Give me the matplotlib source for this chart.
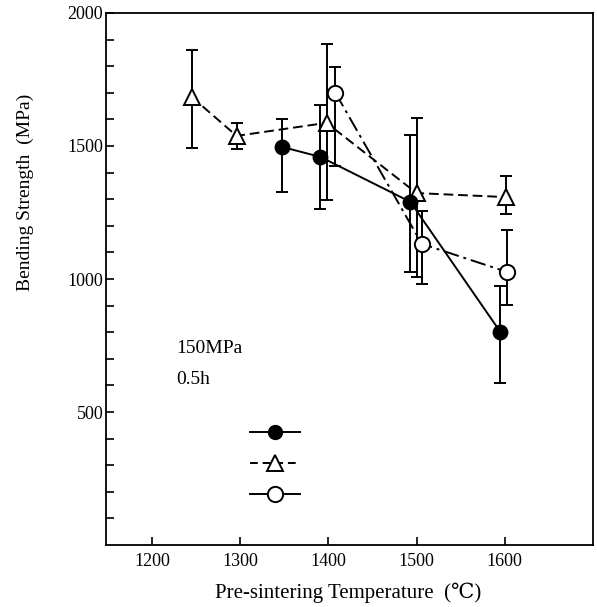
import numpy as np
import matplotlib
matplotlib.use('Agg')
import matplotlib.pyplot as plt
from matplotlib.lines import Line2D

plt.rcParams['font.family'] = ['Liberation Serif', 'DejaVu Serif', 'DejaVu Sans']

# 黑圆点 实线
x_fill = [1347, 1391, 1493, 1595]
y_fill = [1497, 1459, 1290, 801]
up_fill = [1602, 1654, 1542, 974]
lo_fill = [1327, 1263, 1026, 609]

# 三角 虚线
x_tri = [1245, 1296, 1398, 1500, 1601]
y_tri = [1685, 1538, 1587, 1323, 1308]
up_tri = [1861, 1587, 1884, 1605, 1387]
lo_tri = [1493, 1489, 1297, 1007, 1244]

# 空心圆 点划线
x_open = [1408, 1506, 1603]
y_open = [1700, 1132, 1026]
up_open = [1797, 1256, 1184]
lo_open = [1425, 981, 902]

xticks = [1200, 1300, 1400, 1500, 1600]
yticks = [500, 1000, 1500, 2000]


def err(y, up, lo):
    y = np.array(y)
    return [y - np.array(lo), np.array(up) - y]


fig = plt.figure(figsize=(5.97, 6.07), dpi=100)
ax = fig.add_axes([0.1776, 0.1021, 0.8157, 0.8765])

lw = 1.4
ax.errorbar(x_tri, y_tri, yerr=err(y_tri, up_tri, lo_tri), fmt='^', ms=11,
            mfc='white', mec='black', mew=lw, ecolor='black', elinewidth=lw,
            capsize=4.5, capthick=lw, zorder=2)
ax.plot(x_tri, y_tri, color='black', lw=lw, ls=(0, (5, 2.5)), zorder=1)

ax.errorbar(x_fill, y_fill, yerr=err(y_fill, up_fill, lo_fill), fmt='o', ms=10,
            mfc='black', mec='black', mew=lw, ecolor='black', elinewidth=lw,
            capsize=4.5, capthick=lw, zorder=3)
ax.plot(x_fill, y_fill, color='black', lw=lw, ls='-', zorder=1)

ax.errorbar(x_open, y_open, yerr=err(y_open, up_open, lo_open), fmt='o', ms=11,
            mfc='white', mec='black', mew=lw, ecolor='black', elinewidth=lw,
            capsize=4.5, capthick=lw, zorder=4)
ax.plot(x_open, y_open, color='black', lw=lw, ls=(0, (8, 2.5, 1.5, 2.5)), zorder=1)

ax.set_xlim(1148, 1700)
ax.set_ylim(0, 2000)
ax.set_xticks(xticks)
ax.set_yticks(yticks)
ax.set_yticks(np.arange(100, 2000, 100), minor=True)
ax.tick_params(axis='both', direction='in', labelsize=13, width=1.2, length=6)
ax.tick_params(axis='y', which='minor', direction='in', width=1.2, length=6)
ax.tick_params(axis='y', pad=2)
ax.tick_params(axis='x', pad=6)
for s in ax.spines.values():
    s.set_linewidth(1.3)

ax.set_xlabel('Pre-sintering Temperature  (℃)', fontsize=15)
ax.xaxis.set_label_coords(0.497, -0.09, transform=ax.transAxes)
ax.xaxis.label.set_va('center')
ax.set_ylabel('Bending Strength  (MPa)', fontsize=14)
ax.yaxis.set_label_coords(-0.166, 0.662, transform=ax.transAxes)
ax.yaxis.label.set_va('center')

ax.text(0.144, 0.370, '150MPa', transform=ax.transAxes, fontsize=14, va='center')
ax.text(0.144, 0.312, '0.5h', transform=ax.transAxes, fontsize=14, va='center')

handles = [
    Line2D([], [], color='black', lw=lw, ls='-', marker='o', ms=10, mfc='black', mec='black'),
    Line2D([], [], color='black', lw=lw, ls=(0, (4, 2.5)), marker='^', ms=11, mfc='white', mec='black', mew=lw),
    Line2D([], [], color='black', lw=lw, ls='-', marker='o', ms=11, mfc='white', mec='black', mew=lw),
]
ax.legend(handles, ['', '', ''], loc='center left', bbox_to_anchor=(0.27, 0.152),
          frameon=False, handlelength=3.6, labelspacing=1.28, handletextpad=0,
          fontsize=10)

fig.savefig('out.png', dpi=100)
